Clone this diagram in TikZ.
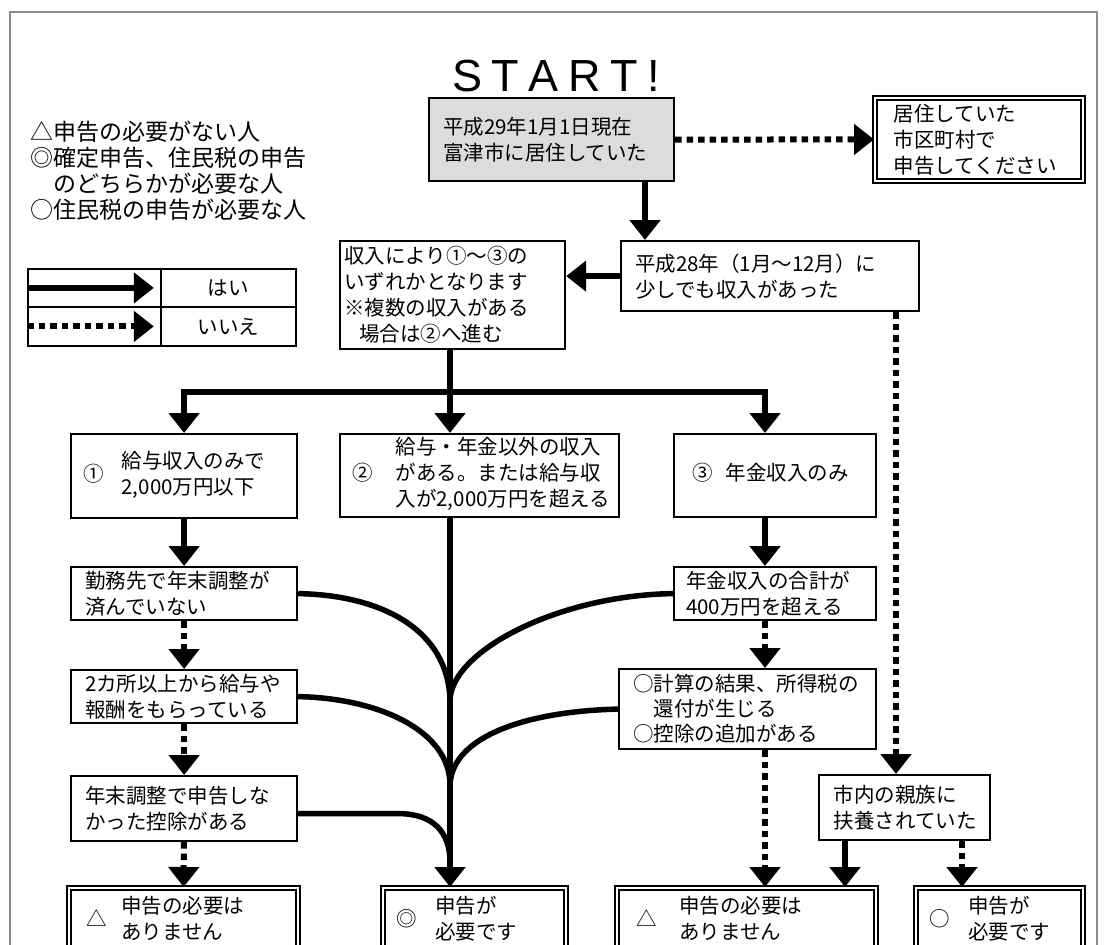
\documentclass[tikz,border=0pt]{standalone}
\usepackage{fontspec}
\setmainfont{Noto Sans CJK JP}
\newfontfamily\startfont{Liberation Sans}
\usetikzlibrary{arrows.meta, positioning}
\definecolor{startgray}{HTML}{DCDCDC}
\definecolor{framegray}{HTML}{8A8A8A}
\newcommand{\withsym}[3]{\mbox{#1\hspace{#2}\begin{tabular}[c]{@{}l@{}}#3\end{tabular}}}

\begin{document}
\begin{tikzpicture}[
  x=1pt, y=-1pt,
  font=\fontsize{20.5}{26}\selectfont,
  box/.style={draw, line width=2.2pt, anchor=north west, align=left, inner ysep=0pt},
  endbox/.style={box, double, double distance=2pt, line width=1.8pt},
  cell/.style={draw, line width=1.8pt, anchor=north west, inner sep=0pt},
  yesline/.style={line width=6pt, -{Triangle[length=20pt, width=30pt]}},
  noline/.style={yesline, dash pattern=on 6.5pt off 5pt},
  curveline/.style={line width=5.5pt}
]
\useasboundingbox (0,0) rectangle (1106,945);
\clip (0,0) rectangle (1106,945);

% --- Frame ---
\draw[framegray, line width=2pt] (10,945) -- (10,12) -- (1097,12) -- (1097,945);

% --- Title and legend ---
\node[font=\startfont\fontsize{45}{45}\selectfont, inner sep=0pt] (title) at (556,76)
  {S\kern9.5pt T\kern9.5pt A\kern9.5pt R\kern9.5pt T\kern9.5pt !};

\node[anchor=west, align=left, inner sep=0pt, font=\fontsize{23}{26}\selectfont] (legend) at (30,171)
  {△申告の必要がない人\\◎確定申告、住民税の申告\\\hspace*{1em}のどちらかが必要な人\\○住民税の申告が必要な人};

\node[cell, minimum width=133pt, minimum height=38pt] (yescell) at (27,268) {};
\node[cell, minimum width=135pt, minimum height=38pt] (yeslabel) at (160,268) {はい};
\node[cell, minimum width=133pt, minimum height=39pt] (nocell) at (27,306) {};
\node[cell, minimum width=135pt, minimum height=39pt] (nolabel) at (160,306) {いいえ};
\draw[yesline] (yescell.west) -- ([xshift=-8pt]yescell.east);
\draw[noline] (nocell.west) -- ([xshift=-8pt]nocell.east);

% --- Top of the chart ---
\node[box, fill=startgray, inner xsep=14pt, text width=217pt, minimum height=83pt] (start) at (428,97)
  {平成29年1月1日現在\\富津市に居住していた};
\node[endbox, inner xsep=19pt, text width=170pt, minimum height=83pt] (moved) at (874,97)
  {居住していた\\市区町村で\\申告してください};
\node[box, inner xsep=14pt, text width=270pt, minimum height=70pt] (income) at (620,240)
  {平成28年（1月～12月）に\\少しでも収入があった};
\node[box, inner xsep=4pt, text width=217pt, minimum height=108pt] (route) at (339,240)
  {収入により①～③の\\いずれかとなります\\※複数の収入がある\\\hspace*{0.75em}場合は②へ進む};

% --- Three kinds of income ---
\node[box, inner xsep=12pt, text width=202pt, minimum height=84pt] (salary) at (70,433)
  {\withsym{①}{18pt}{給与収入のみで\\2,000万円以下}};
\node[box, inner xsep=12pt, text width=255pt, minimum height=83pt] (other) at (339,433)
  {\withsym{②}{23pt}{給与・年金以外の収入\\がある。または給与収\\入が2,000万円を超える}};
\node[box, inner xsep=18pt, text width=166pt, minimum height=83pt] (pension) at (673,433)
  {\withsym{③}{13pt}{年金収入のみ}};

% --- Salary column ---
\node[box, inner xsep=14pt, text width=198pt, minimum height=53pt] (yearend) at (70,566)
  {勤務先で年末調整が\\済んでいない};
\node[box, inner xsep=14pt, text width=198pt, minimum height=53pt] (twojobs) at (70,669)
  {2カ所以上から給与や\\報酬をもらっている};
\node[box, inner xsep=14pt, text width=198pt, minimum height=65pt] (unclaimed) at (70,775)
  {年末調整で申告しな\\かった控除がある};

% --- Pension column ---
\node[box, inner xsep=12pt, text width=178pt, minimum height=53pt] (pensiontotal) at (673,566)
  {年金収入の合計が\\400万円を超える};
\node[box, inner xsep=14pt, text width=229pt, minimum height=80pt, font=\fontsize{20.5}{25}\selectfont] (refund) at (618,668)
  {○計算の結果、所得税の\\\hspace*{1em}還付が生じる\\○控除の追加がある};
\node[box, inner xsep=14.5pt, text width=142pt, minimum height=65pt] (dependent) at (818,774)
  {市内の親族に\\扶養されていた};

% --- Results ---
\node[endbox, inner xsep=18pt, text width=193pt, minimum height=66pt] (nofile1) at (68,887)
  {\withsym{△}{14pt}{申告の必要は\\ありません}};
\node[endbox, inner xsep=14pt, text width=155pt, minimum height=66pt] (file1) at (382,887)
  {\withsym{◎}{18pt}{申告が\\必要です}};
\node[endbox, inner xsep=20pt, text width=219pt, minimum height=66pt] (nofile2) at (616,887)
  {\withsym{△}{22pt}{申告の必要は\\ありません}};
\node[endbox, inner xsep=14pt, text width=139pt, minimum height=66pt] (file2) at (915,887)
  {\withsym{○}{18pt}{申告が\\必要です}};

% --- Columns of the connectors ---
\coordinate (colA) at (645,0);
\coordinate (colM) at (450,0);
\coordinate (colR) at (765,0);
\coordinate (colJ) at (896,0);
\coordinate (jyes) at (845,0);
\coordinate (jno) at (962,0);
\coordinate (split) at (450,392);
\coordinate (m1) at (450,700);
\coordinate (m2) at (450,785);
\coordinate (m3) at (450,862);

% --- Arrows ---
\draw[noline] (start) -- (moved);
\draw[yesline] (start.south -| colA) -- (income.north -| colA);
\draw[yesline] (income.west) -- (income.west -| route.east);
\draw[yesline] (route.south -| colM) -- (other.north -| colM);
\draw[yesline] (split) -| (salary.north);
\draw[yesline] (split) -| (pension.north -| colR);

\draw[yesline] (salary) -- (yearend);
\draw[noline] (yearend) -- (twojobs);
\draw[noline] (twojobs) -- (unclaimed);
\draw[noline] (unclaimed) -- (nofile1);

\draw[yesline] (pension.south -| colR) -- (pensiontotal.north -| colR);
\draw[noline] (pensiontotal.south -| colR) -- (refund.north -| colR);
\draw[noline] (refund.south -| colR) -- (nofile2.north -| colR);

\draw[noline] (income.south -| colJ) -- (dependent.north -| colJ);
\draw[yesline] (dependent.south -| jyes) -- (nofile2.north -| jyes);
\draw[noline] (dependent.south -| jno) -- (file2.north -| jno);

% --- Branches joining the trunk ---
\draw[yesline] (other.south -| colM) -- (file1.north -| colM);
\draw[curveline] (yearend.east) .. controls +(84,1.5) and +(-2,-70) .. (m1);
\draw[curveline] (pensiontotal.west) .. controls +(-113,1.5) and +(2,-50) .. (m1);
\draw[curveline] (twojobs.east) .. controls +(79,1.5) and +(0,-55) .. (m2);
\draw[curveline] (refund.west) .. controls +(-88,2) and +(2,-50) .. (m2);
\draw[curveline] ([yshift=-5pt]unclaimed.east) -- +(100,0) .. controls +(35,0) and +(0,-30) .. (m3);

\end{tikzpicture}
\end{document}
